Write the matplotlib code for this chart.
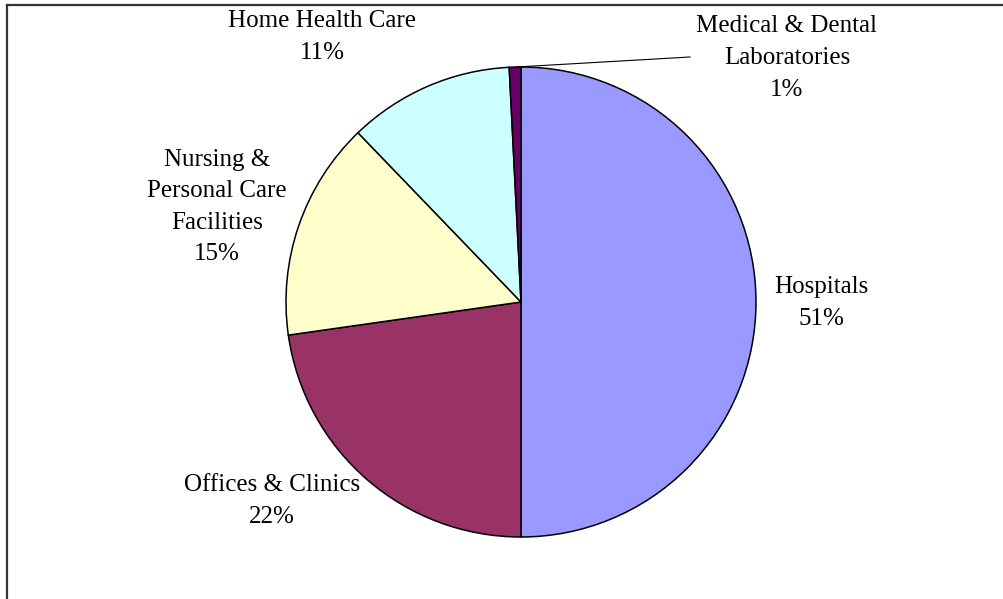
import numpy as np
import matplotlib
matplotlib.use("Agg")
import matplotlib.pyplot as plt
from matplotlib.lines import Line2D

# slice data, clockwise from 12 o'clock
categories = ["Hospitals", "Offices & Clinics", "Nursing &\nPersonal Care\nFacilities",
              "Home Health Care", "Medical & Dental\nLaboratories"]
shares = [50.0, 22.75, 15.05, 11.4, 0.8]
pct_labels = ["51%", "22%", "15%", "11%", "1%"]
colors = ["#9999FF", "#993366", "#FFFFCC", "#CCFFFF", "#660066"]

# label anchor positions in pixel space (x, y from top)
label_pos = [(821, 303), (272, 501), (217, 207), (322, 37), (787, 58)]

W, H = 1004, 599
fig = plt.figure(figsize=(W / 100, H / 100), dpi=100)
ax = fig.add_axes([0, 0, 1, 1])

cx, cy, r = 521, H - 302, 235
wedges, _ = ax.pie(shares, colors=colors, startangle=90, counterclock=False,
                   center=(cx, cy), radius=r, frame=True,
                   wedgeprops=dict(edgecolor="black", linewidth=1.1))
ax.set_xlim(0, W)
ax.set_ylim(0, H)
ax.set_aspect("equal")
ax.axis("off")

for cat, pct, (lx, ly) in zip(categories, pct_labels, label_pos):
    ax.text(lx, H - ly, cat + "\n" + pct, ha="center", va="center",
            fontsize=18, family="Liberation Serif", linespacing=1.56)

# leader line for the tiny slice
w = wedges[-1]
mid = np.deg2rad((w.theta1 + w.theta2) / 2)
ax.plot([cx + r * np.cos(mid), 690], [cy + r * np.sin(mid), H - 57],
        color="black", linewidth=0.8)

# outer frame (only top and left edges visible)
fig.add_artist(Line2D([7 / W, 7 / W], [0, 1 - 5 / H], transform=fig.transFigure,
                      color="#333333", linewidth=1.6))
fig.add_artist(Line2D([7 / W, 1], [1 - 5 / H, 1 - 5 / H], transform=fig.transFigure,
                      color="#333333", linewidth=1.6))

fig.savefig("out.png", dpi=100)
